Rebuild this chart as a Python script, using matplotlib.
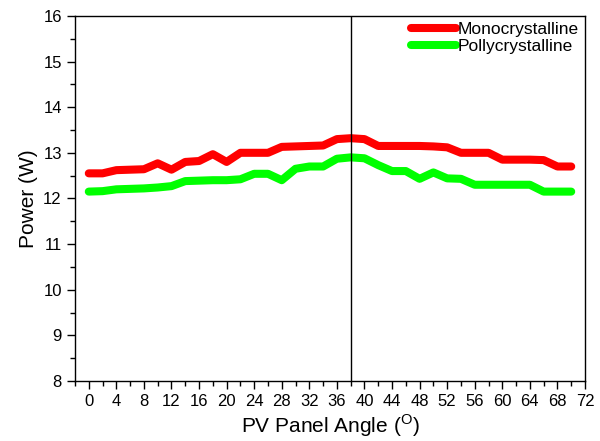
import matplotlib
matplotlib.use('Agg')

import numpy as np
import matplotlib.pyplot as plt
from matplotlib.ticker import MultipleLocator

plt.rcParams['font.family'] = ['Liberation Sans', 'DejaVu Sans']
plt.rcParams['mathtext.fontset'] = 'custom'
plt.rcParams['mathtext.rm'] = 'Liberation Sans'

# Panel tilt angle (degrees) and measured power (W)
angle = np.arange(0, 72, 2)
mono = [12.55, 12.55, 12.62, 12.63, 12.64, 12.77, 12.63, 12.80, 12.82, 12.97,
        12.80, 13.00, 13.00, 13.00, 13.13, 13.14, 13.15, 13.16, 13.30, 13.32,
        13.30, 13.15, 13.15, 13.15, 13.15, 13.14, 13.12, 13.00, 13.00, 13.00,
        12.85, 12.85, 12.85, 12.84, 12.70, 12.70]
poly = [12.15, 12.16, 12.20, 12.21, 12.22, 12.24, 12.27, 12.38, 12.39, 12.40,
        12.40, 12.42, 12.54, 12.54, 12.40, 12.65, 12.70, 12.70, 12.87, 12.90,
        12.88, 12.73, 12.60, 12.60, 12.43, 12.57, 12.44, 12.43, 12.30, 12.30,
        12.30, 12.30, 12.30, 12.15, 12.15, 12.15]
optimum_angle = 38

fig = plt.figure(figsize=(6, 4.41), dpi=100)
ax = fig.add_axes([0.125, 0.136, 0.85, 0.828])

ax.plot(angle, mono, color='#ff0000', lw=5.8, solid_capstyle='round',
        solid_joinstyle='round', label='Monocrystalline')
ax.plot(angle, poly, color='#00ff00', lw=5.8, solid_capstyle='round',
        solid_joinstyle='round', label='Pollycrystalline')
ax.axvline(optimum_angle, color='black', lw=1)

ax.set_xlim(-2, 72)
ax.set_ylim(8, 16)
ax.xaxis.set_major_locator(MultipleLocator(4))
ax.xaxis.set_minor_locator(MultipleLocator(2))
ax.yaxis.set_major_locator(MultipleLocator(1))
ax.yaxis.set_minor_locator(MultipleLocator(0.5))
ax.set_xticks(np.arange(0, 73, 4))
ax.tick_params(which='major', direction='out', length=6, width=1, labelsize=12)
ax.tick_params(which='minor', direction='out', length=3.5, width=1)
ax.tick_params(top=False, right=False)
for s in ax.spines.values():
    s.set_linewidth(1)

ax.set_xlabel(r'PV Panel Angle ($^\mathrm{O}$)', fontsize=15, labelpad=2)
ax.set_ylabel('Power (W)', fontsize=15)

ax.legend(loc='upper right', frameon=False, fontsize=12.5, handlelength=2.6,
          handletextpad=0.1, labelspacing=0.1, borderaxespad=0.2,
          borderpad=0.15)

plt.savefig('out.png', dpi=100)
